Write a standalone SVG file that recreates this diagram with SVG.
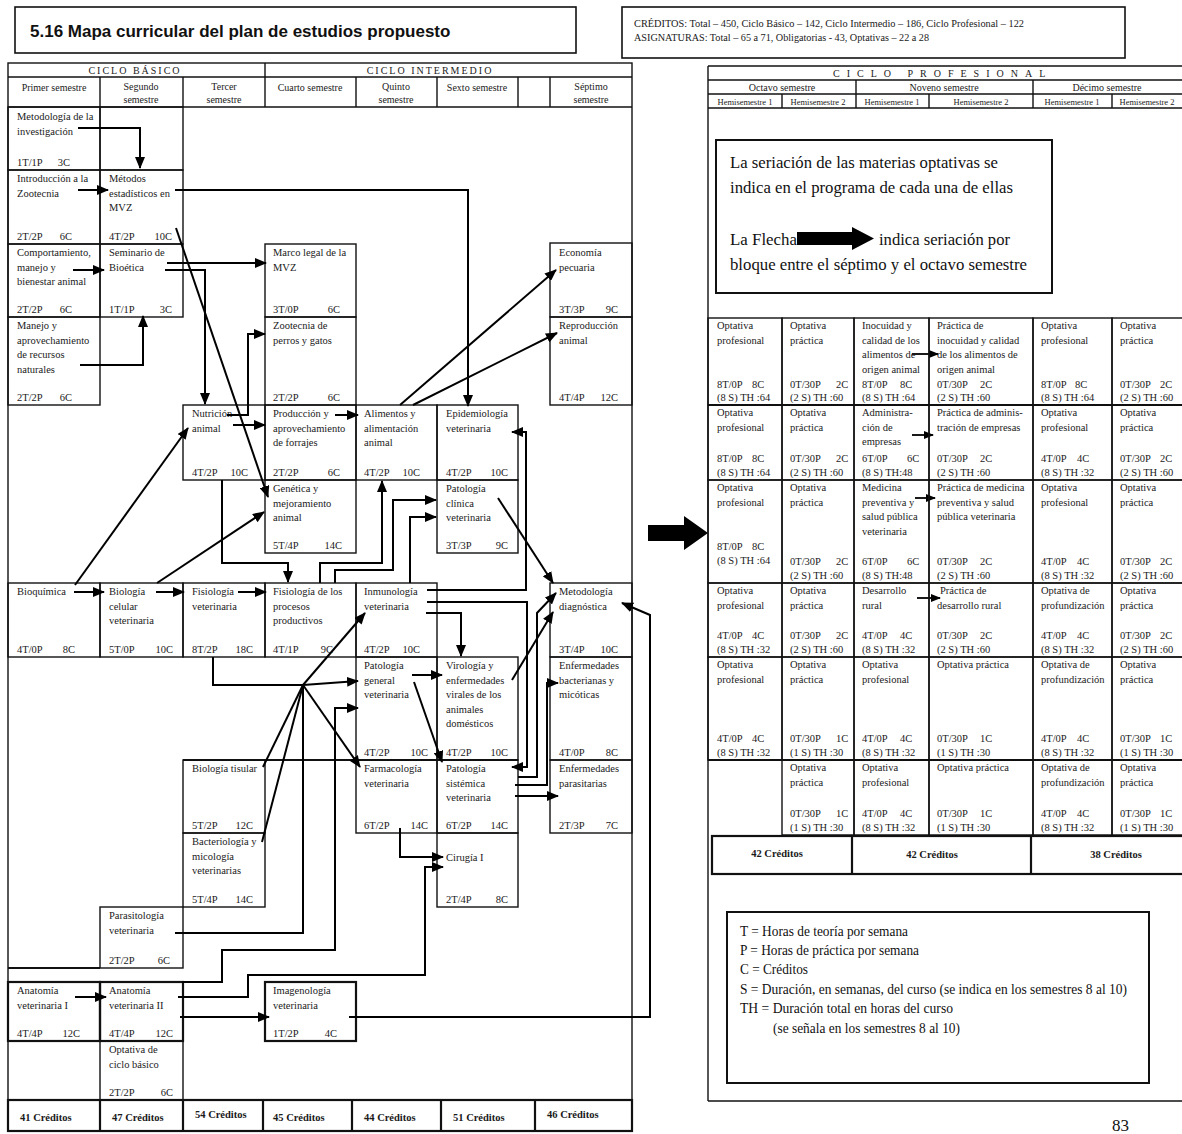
<svg xmlns="http://www.w3.org/2000/svg" width="1182" height="1134" viewBox="0 0 1182 1134">
<defs>
<marker id="ah" markerUnits="userSpaceOnUse" markerWidth="12" markerHeight="10" refX="11" refY="5" orient="auto"><path d="M0,0 L12,5 L0,10 z" fill="#000"/></marker>
<marker id="ahs" markerUnits="userSpaceOnUse" markerWidth="10" markerHeight="8" refX="9" refY="4" orient="auto"><path d="M0,0 L10,4 L0,8 z" fill="#000"/></marker>
<style>
.cell{fill:none;stroke:#111;stroke-width:1.4}
.ln{fill:none;stroke:#111;stroke-width:1.4}
.thk{stroke-width:2.2}
.t{font-family:"Liberation Serif","Times New Roman",serif;font-size:10.5px;fill:#1a1a1a}
.h{font-family:"Liberation Serif","Times New Roman",serif;font-size:10px;fill:#1a1a1a}
.hs{font-family:"Liberation Serif","Times New Roman",serif;font-size:8.5px;fill:#1a1a1a;text-anchor:middle}
.cr{font-family:"Liberation Serif","Times New Roman",serif;font-size:10.5px;font-weight:bold;fill:#1a1a1a}
.lg{font-family:"Liberation Serif","Times New Roman",serif;font-size:16.5px;fill:#111}
.lg2{font-family:"Liberation Serif","Times New Roman",serif;font-size:14.5px;fill:#111}
.e{text-anchor:end}
.m{text-anchor:middle}
.con polyline{fill:none;stroke:#000;stroke-width:2;marker-end:url(#ah)}
.con polyline.nj{marker-end:none}
.con polyline.s{stroke-width:1.8;marker-end:url(#ahs)}
</style>
</defs>
<rect width="1182" height="1134" fill="#fff"/>

<!-- Title and credits boxes -->
<g id="title">
<rect x="15" y="7" width="561" height="46" fill="none" stroke="#111" stroke-width="1.6"/>
<text x="30" y="37" font-family="Liberation Sans, Arial, sans-serif" font-size="17" font-weight="bold" fill="#111">5.16 Mapa curricular del plan de estudios propuesto</text>
</g>
<g id="creditos-box">
<rect x="622" y="7" width="503" height="51" fill="none" stroke="#111" stroke-width="1.6"/>
<text class="h" x="634" y="27" font-size="9.5" textLength="390" lengthAdjust="spacingAndGlyphs">CRÉDITOS:  Total – 450,  Ciclo Básico – 142,  Ciclo Intermedio – 186,  Ciclo Profesional – 122</text>
<text class="h" x="634" y="41" font-size="9.5" textLength="295" lengthAdjust="spacingAndGlyphs">ASIGNATURAS: Total – 65 a 71,  Obligatorias - 43, Optativas – 22 a 28</text>
</g>

<!-- Left table frame -->
<g id="left-frame">
<rect class="ln" x="8" y="63" width="624" height="1037"/>
<line class="ln" x1="8" y1="77" x2="632" y2="77"/>
<line class="ln" x1="8" y1="107" x2="632" y2="107"/>
<line class="ln" x1="265" y1="63" x2="265" y2="107"/>
<line class="ln" x1="100" y1="77" x2="100" y2="107"/>
<line class="ln" x1="183" y1="77" x2="183" y2="107"/>
<line class="ln" x1="356" y1="77" x2="356" y2="107"/>
<line class="ln" x1="437" y1="77" x2="437" y2="107"/>
<line class="ln" x1="518" y1="77" x2="518" y2="107"/>
<line class="ln" x1="550" y1="77" x2="550" y2="107"/>
<text class="h m" x="135" y="74" letter-spacing="2">CICLO BÁSICO</text>
<text class="h m" x="430" y="74" letter-spacing="2">CICLO INTERMEDIO</text>
<text class="h m" x="54" y="91">Primer semestre</text>
<text class="h m" x="141" y="90">Segundo<tspan x="141" dy="13">semestre</tspan></text>
<text class="h m" x="224" y="90">Tercer<tspan x="224" dy="13">semestre</tspan></text>
<text class="h m" x="310" y="91">Cuarto semestre</text>
<text class="h m" x="396" y="90">Quinto<tspan x="396" dy="13">semestre</tspan></text>
<text class="h m" x="477" y="91">Sexto semestre</text>
<text class="h m" x="591" y="90">Séptimo<tspan x="591" dy="13">semestre</tspan></text>
<rect class="cell" x="100" y="107" width="83" height="63"/>
<line class="ln" x1="265" y1="760" x2="356" y2="760"/>
<line class="ln thk" x1="8" y1="968" x2="100" y2="968"/>
<line class="ln thk" x1="183" y1="760" x2="518" y2="760"/>
</g>

<!-- Left table credits row -->
<g id="left-credits">
<rect x="8" y="1100" width="624" height="31" fill="none" stroke="#111" stroke-width="2.2"/>
<line class="ln thk" x1="100" y1="1100" x2="100" y2="1131"/>
<line class="ln thk" x1="183" y1="1100" x2="183" y2="1131"/>
<line class="ln thk" x1="263" y1="1100" x2="263" y2="1131"/>
<line class="ln thk" x1="352" y1="1100" x2="352" y2="1131"/>
<line class="ln thk" x1="441" y1="1100" x2="441" y2="1131"/>
<line class="ln thk" x1="535" y1="1100" x2="535" y2="1131"/>
<text class="cr" x="20" y="1121">41 Créditos</text>
<text class="cr" x="112" y="1121">47 Créditos</text>
<text class="cr" x="195" y="1118">54 Créditos</text>
<text class="cr" x="273" y="1121">45 Créditos</text>
<text class="cr" x="364" y="1121">44 Créditos</text>
<text class="cr" x="453" y="1121">51 Créditos</text>
<text class="cr" x="547" y="1118">46 Créditos</text>
</g>

<!-- Column 1 -->
<g id="n-metinv"><rect class="cell" x="8" y="107" width="92" height="63"/><text class="t" x="17" y="120">Metodología de la<tspan x="17" dy="14.5">investigación</tspan></text><text class="t" x="17" y="166">1T/1P</text><text class="t e" x="70" y="166">3C</text></g>
<g id="n-introzoo"><rect class="cell" x="8" y="170" width="92" height="74"/><text class="t" x="17" y="182">Introducción a la<tspan x="17" dy="14.5">Zootecnia</tspan></text><text class="t" x="17" y="240">2T/2P</text><text class="t e" x="72" y="240">6C</text></g>
<g id="n-comport"><rect class="cell" x="8" y="244" width="92" height="73"/><text class="t" x="17" y="256">Comportamiento,<tspan x="17" dy="14.5">manejo y</tspan><tspan x="17" dy="14.5">bienestar animal</tspan></text><text class="t" x="17" y="313">2T/2P</text><text class="t e" x="72" y="313">6C</text></g>
<g id="n-manejo"><rect class="cell" x="8" y="317" width="92" height="88"/><text class="t" x="17" y="329">Manejo y<tspan x="17" dy="14.5">aprovechamiento</tspan><tspan x="17" dy="14.5">de recursos</tspan><tspan x="17" dy="14.5">naturales</tspan></text><text class="t" x="17" y="401">2T/2P</text><text class="t e" x="72" y="401">6C</text></g>
<g id="n-bioq"><rect class="cell" x="8" y="583" width="92" height="74"/><text class="t" x="17" y="595">Bioquímica</text><text class="t" x="17" y="653">4T/0P</text><text class="t e" x="75" y="653">8C</text></g>
<g id="n-anat1"><rect class="cell thk" x="8" y="982" width="92" height="59"/><text class="t" x="17" y="994">Anatomía<tspan x="17" dy="14.5">veterinaria I</tspan></text><text class="t" x="17" y="1037">4T/4P</text><text class="t e" x="80" y="1037">12C</text></g>

<!-- Column 2 -->
<g id="n-metest"><rect class="cell" x="100" y="170" width="83" height="74"/><text class="t" x="109" y="182">Métodos<tspan x="109" dy="14.5">estadísticos en</tspan><tspan x="109" dy="14.5">MVZ</tspan></text><text class="t" x="109" y="240">4T/2P</text><text class="t e" x="172" y="240">10C</text></g>
<g id="n-bioet"><rect class="cell" x="100" y="244" width="83" height="73"/><text class="t" x="109" y="256">Seminario de<tspan x="109" dy="14.5">Bioética</tspan></text><text class="t" x="109" y="313">1T/1P</text><text class="t e" x="172" y="313">3C</text></g>
<g id="n-biocel"><rect class="cell" x="100" y="583" width="83" height="74"/><text class="t" x="109" y="595">Biología<tspan x="109" dy="14.5">celular</tspan><tspan x="109" dy="14.5">veterinaria</tspan></text><text class="t" x="109" y="653">5T/0P</text><text class="t e" x="173" y="653">10C</text></g>
<g id="n-parasit"><rect class="cell" x="100" y="907" width="83" height="61"/><text class="t" x="109" y="919">Parasitología<tspan x="109" dy="14.5">veterinaria</tspan></text><text class="t" x="109" y="964">2T/2P</text><text class="t e" x="170" y="964">6C</text></g>
<g id="n-anat2"><rect class="cell thk" x="100" y="982" width="83" height="59"/><text class="t" x="109" y="994">Anatomía<tspan x="109" dy="14.5">veterinaria II</tspan></text><text class="t" x="109" y="1037">4T/4P</text><text class="t e" x="173" y="1037">12C</text></g>
<g id="n-optbas"><rect class="cell" x="100" y="1041" width="83" height="59"/><text class="t" x="109" y="1053">Optativa de<tspan x="109" dy="14.5">ciclo básico</tspan></text><text class="t" x="109" y="1096">2T/2P</text><text class="t e" x="173" y="1096">6C</text></g>

<!-- Column 3 -->
<g id="n-nutri"><rect class="cell" x="183" y="405" width="82" height="75"/><text class="t" x="192" y="417">Nutrición<tspan x="192" dy="14.5">animal</tspan></text><text class="t" x="192" y="476">4T/2P</text><text class="t e" x="248" y="476">10C</text></g>
<g id="n-fisvet"><rect class="cell" x="183" y="583" width="82" height="74"/><text class="t" x="192" y="595">Fisiología<tspan x="192" dy="14.5">veterinaria</tspan></text><text class="t" x="192" y="653">8T/2P</text><text class="t e" x="253" y="653">18C</text></g>
<g id="n-biotis"><rect class="cell" x="183" y="760" width="82" height="73"/><text class="t" x="192" y="772">Biología tisular</text><text class="t" x="192" y="829">5T/2P</text><text class="t e" x="253" y="829">12C</text></g>
<g id="n-bacter"><rect class="cell" x="183" y="833" width="82" height="74"/><text class="t" x="192" y="845">Bacteriología y<tspan x="192" dy="14.5">micología</tspan><tspan x="192" dy="14.5">veterinarias</tspan></text><text class="t" x="192" y="903">5T/4P</text><text class="t e" x="253" y="903">14C</text></g>

<!-- Column 4 -->
<g id="n-marco"><rect class="cell" x="265" y="244" width="91" height="73"/><text class="t" x="273" y="256">Marco legal de la<tspan x="273" dy="14.5">MVZ</tspan></text><text class="t" x="273" y="313">3T/0P</text><text class="t e" x="340" y="313">6C</text></g>
<g id="n-zoope"><rect class="cell" x="265" y="317" width="91" height="88"/><text class="t" x="273" y="329">Zootecnia de<tspan x="273" dy="14.5">perros y gatos</tspan></text><text class="t" x="273" y="401">2T/2P</text><text class="t e" x="340" y="401">6C</text></g>
<g id="n-produc"><rect class="cell" x="265" y="405" width="91" height="75"/><text class="t" x="273" y="417">Producción y<tspan x="273" dy="14.5">aprovechamiento</tspan><tspan x="273" dy="14.5">de forrajes</tspan></text><text class="t" x="273" y="476">2T/2P</text><text class="t e" x="340" y="476">6C</text></g>
<g id="n-genet"><rect class="cell" x="265" y="480" width="91" height="73"/><text class="t" x="273" y="492">Genética y<tspan x="273" dy="14.5">mejoramiento</tspan><tspan x="273" dy="14.5">animal</tspan></text><text class="t" x="273" y="549">5T/4P</text><text class="t e" x="342" y="549">14C</text></g>
<g id="n-fispro"><rect class="cell" x="265" y="583" width="91" height="74"/><text class="t" x="273" y="595">Fisiología de los<tspan x="273" dy="14.5">procesos</tspan><tspan x="273" dy="14.5">productivos</tspan></text><text class="t" x="273" y="653">4T/1P</text><text class="t e" x="333" y="653">9C</text></g>
<g id="n-imagen"><rect class="cell thk" x="265" y="982" width="91" height="59"/><text class="t" x="273" y="994">Imagenología<tspan x="273" dy="14.5">veterinaria</tspan></text><text class="t" x="273" y="1037">1T/2P</text><text class="t e" x="337" y="1037">4C</text></g>

<!-- Column 5 -->
<g id="n-alimen"><rect class="cell" x="356" y="405" width="81" height="75"/><text class="t" x="364" y="417">Alimentos y<tspan x="364" dy="14.5">alimentación</tspan><tspan x="364" dy="14.5">animal</tspan></text><text class="t" x="364" y="476">4T/2P</text><text class="t e" x="420" y="476">10C</text></g>
<g id="n-inmuno"><rect class="cell" x="356" y="583" width="81" height="74"/><text class="t" x="364" y="595">Inmunología<tspan x="364" dy="14.5">veterinaria</tspan></text><text class="t" x="364" y="653">4T/2P</text><text class="t e" x="420" y="653">10C</text></g>
<g id="n-patgen"><rect class="cell" x="356" y="657" width="81" height="103"/><text class="t" x="364" y="669">Patología<tspan x="364" dy="14.5">general</tspan><tspan x="364" dy="14.5">veterinaria</tspan></text><text class="t" x="364" y="756">4T/2P</text><text class="t e" x="428" y="756">10C</text></g>
<g id="n-farmac"><rect class="cell" x="356" y="760" width="81" height="73"/><text class="t" x="364" y="772">Farmacología<tspan x="364" dy="14.5">veterinaria</tspan></text><text class="t" x="364" y="829">6T/2P</text><text class="t e" x="428" y="829">14C</text></g>

<!-- Column 6 -->
<g id="n-epidem"><rect class="cell" x="437" y="405" width="81" height="75"/><text class="t" x="446" y="417">Epidemiología<tspan x="446" dy="14.5">veterinaria</tspan></text><text class="t" x="446" y="476">4T/2P</text><text class="t e" x="508" y="476">10C</text></g>
<g id="n-patcli"><rect class="cell" x="437" y="480" width="81" height="73"/><text class="t" x="446" y="492">Patología<tspan x="446" dy="14.5">clínica</tspan><tspan x="446" dy="14.5">veterinaria</tspan></text><text class="t" x="446" y="549">3T/3P</text><text class="t e" x="508" y="549">9C</text></g>
<g id="n-virol"><rect class="cell" x="437" y="657" width="81" height="103"/><text class="t" x="446" y="669">Virología y<tspan x="446" dy="14.5">enfermedades</tspan><tspan x="446" dy="14.5">virales de los</tspan><tspan x="446" dy="14.5">animales</tspan><tspan x="446" dy="14.5">domésticos</tspan></text><text class="t" x="446" y="756">4T/2P</text><text class="t e" x="508" y="756">10C</text></g>
<g id="n-patsis"><rect class="cell" x="437" y="760" width="81" height="73"/><text class="t" x="446" y="772">Patología<tspan x="446" dy="14.5">sistémica</tspan><tspan x="446" dy="14.5">veterinaria</tspan></text><text class="t" x="446" y="829">6T/2P</text><text class="t e" x="508" y="829">14C</text></g>
<g id="n-cirug"><rect class="cell" x="437" y="833" width="81" height="74"/><text class="t" x="446" y="861">Cirugía I</text><text class="t" x="446" y="903">2T/4P</text><text class="t e" x="508" y="903">8C</text></g>

<!-- Column 7 -->
<g id="n-econ"><rect class="cell" x="550" y="243" width="82" height="74"/><text class="t" x="559" y="256">Economía<tspan x="559" dy="14.5">pecuaria</tspan></text><text class="t" x="559" y="313">3T/3P</text><text class="t e" x="618" y="313">9C</text></g>
<g id="n-reprod"><rect class="cell" x="550" y="317" width="82" height="88"/><text class="t" x="559" y="329">Reproducción<tspan x="559" dy="14.5">animal</tspan></text><text class="t" x="559" y="401">4T/4P</text><text class="t e" x="618" y="401">12C</text></g>
<g id="n-metdia"><rect class="cell" x="550" y="583" width="82" height="74"/><text class="t" x="559" y="595">Metodología<tspan x="559" dy="14.5">diagnóstica</tspan></text><text class="t" x="559" y="653">3T/4P</text><text class="t e" x="618" y="653">10C</text></g>
<g id="n-enfbac"><rect class="cell" x="550" y="657" width="82" height="103"/><text class="t" x="559" y="669">Enfermedades<tspan x="559" dy="14.5">bacterianas y</tspan><tspan x="559" dy="14.5">micóticas</tspan></text><text class="t" x="559" y="756">4T/0P</text><text class="t e" x="618" y="756">8C</text></g>
<g id="n-enfpar"><rect class="cell" x="550" y="760" width="82" height="73"/><text class="t" x="559" y="772">Enfermedades<tspan x="559" dy="14.5">parasitarias</tspan></text><text class="t" x="559" y="829">2T/3P</text><text class="t e" x="618" y="829">7C</text></g>

<!-- Connectors -->
<g id="connectors" class="con">
<polyline points="78,128 140,128 140,168"/>
<polyline points="78,190 108,190"/>
<polyline points="73,270 104,270"/>
<polyline points="80,365 143,365 143,316"/>
<polyline points="175,190 468,190 468,406"/>
<polyline points="167,263 266,263"/>
<polyline points="165,270 205,270 205,404"/>
<polyline points="176,228 268,497"/>
<polyline points="227,415 248,415 248,334 265,334"/>
<polyline points="233,425 265,425"/>
<polyline points="75,585 188,428"/>
<polyline points="157,583 264,512"/>
<polyline points="74,592 104,592"/>
<polyline points="156,592 184,592"/>
<polyline points="238,592 266,592"/>
<polyline points="222,480 222,563 288,563 288,582"/>
<polyline points="320,583 320,563 382,563 382,481"/>
<polyline points="335,583 335,570 393,570 393,500 436,500"/>
<polyline points="410,583 410,517 436,517"/>
<polyline points="335,415 358,415"/>
<polyline points="400,405 556,270"/>
<polyline points="413,405 557,333"/>
<polyline points="498,498 553,583"/>
<polyline points="427,590 526,590 526,432 512,432"/>
<polyline points="427,602 527,602 527,767 512,767"/>
<polyline points="426,613 461,613 461,656"/>
<polyline points="512,680 553,612"/>
<polyline points="518,777 537,777 537,613 556,593"/>
<polyline points="515,785 547,785 547,683 558,683"/>
<polyline points="515,796 558,796"/>
<polyline points="412,675 442,675"/>
<polyline points="414,682 442,762"/>
<polyline class="nj" points="213,657 213,685 303,685"/>
<polyline class="nj" points="175,933 303,933 303,685"/>
<polyline class="nj" points="263,767 303,685"/>
<polyline class="nj" points="262,842 303,685"/>
<polyline points="303,685 365,613"/>
<polyline points="303,685 358,681"/>
<polyline points="303,685 360,767"/>
<polyline points="182,982 222,982 222,950 335,950 335,708 358,708"/>
<polyline points="400,828 400,857 443,857"/>
<polyline points="178,997 248,997 248,975 425,975 425,867 443,867"/>
<polyline points="180,1017 269,1017"/>
<polyline points="75,997 106,997"/>
<polyline points="349,1017 650,1017 650,615 622,603"/>
<polyline class="s" points="912,354 938,354"/>
<polyline class="s" points="912,435 933,435"/>
<polyline class="s" points="915,498 935,498"/>
<polyline class="s" points="917,598 940,598"/>
<polygon points="648,525 684,525 684,516 708,533 684,550 684,541 648,541" fill="#000"/>
</g>

<!-- Right table frame -->
<g id="right-frame">
<line class="ln" x1="708" y1="66" x2="708" y2="1101"/>
<line class="ln" x1="708" y1="66" x2="1182" y2="66"/>
<line class="ln" x1="708" y1="80" x2="1182" y2="80"/>
<line class="ln" x1="708" y1="94" x2="1182" y2="94"/>
<line class="ln" x1="708" y1="108" x2="1182" y2="108"/>
<line class="ln" x1="708" y1="1101" x2="1182" y2="1101"/>
<line class="ln" x1="856" y1="80" x2="856" y2="108"/>
<line class="ln" x1="1033" y1="80" x2="1033" y2="108"/>
<line class="ln" x1="782" y1="94" x2="782" y2="108"/>
<line class="ln" x1="929" y1="94" x2="929" y2="108"/>
<line class="ln" x1="1112" y1="94" x2="1112" y2="108"/>
<text class="h" x="833" y="77" letter-spacing="7">CICLO  PROFESIONAL</text>
<text class="h m" x="782" y="91" font-size="9.5">Octavo semestre</text>
<text class="h m" x="944" y="91" font-size="9.5">Noveno semestre</text>
<text class="h m" x="1107" y="91" font-size="9.5">Décimo semestre</text>
<text class="hs" x="745" y="105">Hemisemestre 1</text>
<text class="hs" x="818" y="105">Hemisemestre 2</text>
<text class="hs" x="892" y="105">Hemisemestre 1</text>
<text class="hs" x="981" y="105">Hemisemestre 2</text>
<text class="hs" x="1072" y="105">Hemisemestre 1</text>
<text class="hs" x="1147" y="105">Hemisemestre 2</text>
<line class="ln thk" x1="708" y1="405" x2="1182" y2="405"/>
<line class="ln thk" x1="708" y1="760" x2="1182" y2="760"/>
</g>

<g id="legend-seriacion">
<rect x="716" y="140" width="336" height="153" fill="none" stroke="#111" stroke-width="2"/>
<text class="lg" x="730" y="168" textLength="268" lengthAdjust="spacingAndGlyphs">La seriación de las materias optativas se</text>
<text class="lg" x="730" y="193" textLength="283" lengthAdjust="spacingAndGlyphs">indica en el programa de cada una de ellas</text>
<text class="lg" x="730" y="245" textLength="67" lengthAdjust="spacingAndGlyphs">La Flecha</text>
<polygon points="797,232 852,232 852,227 874,238.5 852,250 852,245 797,245" fill="#000"/>
<text class="lg" x="879" y="245" textLength="131" lengthAdjust="spacingAndGlyphs">indica seriación por</text>
<text class="lg" x="730" y="270" textLength="297" lengthAdjust="spacingAndGlyphs">bloque entre el séptimo y el octavo semestre</text>
</g>

<!-- Right table row 1 -->
<g id="r1c1"><rect class="cell" x="708" y="318" width="74" height="87"/><text class="t" x="717" y="329">Optativa<tspan x="717" dy="14.5">profesional</tspan></text><text class="t" x="717" y="388">8T/0P</text><text class="t" x="752" y="388">8C</text><text class="t" x="717" y="401">(8 S) TH :64</text></g>
<g id="r1c2"><rect class="cell" x="782" y="318" width="72" height="87"/><text class="t" x="790" y="329">Optativa<tspan x="790" dy="14.5">práctica</tspan></text><text class="t" x="790" y="388">0T/30P</text><text class="t" x="836" y="388">2C</text><text class="t" x="790" y="401">(2 S) TH :60</text></g>
<g id="r1c3"><rect class="cell" x="854" y="318" width="75" height="87"/><text class="t" x="862" y="329">Inocuidad y<tspan x="862" dy="14.5">calidad de los</tspan><tspan x="862" dy="14.5">alimentos de</tspan><tspan x="862" dy="14.5">origen animal</tspan></text><text class="t" x="862" y="388">8T/0P</text><text class="t" x="900" y="388">8C</text><text class="t" x="862" y="401">(8 S) TH :64</text></g>
<g id="r1c4"><rect class="cell" x="929" y="318" width="104" height="87"/><text class="t" x="937" y="329">Práctica de<tspan x="937" dy="14.5">inocuidad y calidad</tspan><tspan x="937" dy="14.5">de los alimentos de</tspan><tspan x="937" dy="14.5">origen animal</tspan></text><text class="t" x="937" y="388">0T/30P</text><text class="t" x="980" y="388">2C</text><text class="t" x="937" y="401">(2 S) TH :60</text></g>
<g id="r1c5"><rect class="cell" x="1033" y="318" width="79" height="87"/><text class="t" x="1041" y="329">Optativa<tspan x="1041" dy="14.5">profesional</tspan></text><text class="t" x="1041" y="388">8T/0P</text><text class="t" x="1075" y="388">8C</text><text class="t" x="1041" y="401">(8 S) TH :64</text></g>
<g id="r1c6"><rect class="cell" x="1112" y="318" width="72" height="87"/><text class="t" x="1120" y="329">Optativa<tspan x="1120" dy="14.5">práctica</tspan></text><text class="t" x="1120" y="388">0T/30P</text><text class="t" x="1160" y="388">2C</text><text class="t" x="1120" y="401">(2 S) TH :60</text></g>

<!-- Row 2 -->
<g id="r2c1"><rect class="cell" x="708" y="405" width="74" height="75"/><text class="t" x="717" y="416">Optativa<tspan x="717" dy="14.5">profesional</tspan></text><text class="t" x="717" y="462">8T/0P</text><text class="t" x="752" y="462">8C</text><text class="t" x="717" y="476">(8 S) TH :64</text></g>
<g id="r2c2"><rect class="cell" x="782" y="405" width="72" height="75"/><text class="t" x="790" y="416">Optativa<tspan x="790" dy="14.5">práctica</tspan></text><text class="t" x="790" y="462">0T/30P</text><text class="t" x="836" y="462">2C</text><text class="t" x="790" y="476">(2 S) TH :60</text></g>
<g id="r2c3"><rect class="cell" x="854" y="405" width="75" height="75"/><text class="t" x="862" y="416">Administra-<tspan x="862" dy="14.5">ción de</tspan><tspan x="862" dy="14.5">empresas</tspan></text><text class="t" x="862" y="462">6T/0P</text><text class="t" x="907" y="462">6C</text><text class="t" x="862" y="476">(8 S)   TH:48</text></g>
<g id="r2c4"><rect class="cell" x="929" y="405" width="104" height="75"/><text class="t" x="937" y="416">Práctica de adminis-<tspan x="937" dy="14.5">tración de empresas</tspan></text><text class="t" x="937" y="462">0T/30P</text><text class="t" x="980" y="462">2C</text><text class="t" x="937" y="476">(2 S) TH :60</text></g>
<g id="r2c5"><rect class="cell" x="1033" y="405" width="79" height="75"/><text class="t" x="1041" y="416">Optativa<tspan x="1041" dy="14.5">profesional</tspan></text><text class="t" x="1041" y="462">4T/0P</text><text class="t" x="1077" y="462">4C</text><text class="t" x="1041" y="476">(8 S) TH :32</text></g>
<g id="r2c6"><rect class="cell" x="1112" y="405" width="72" height="75"/><text class="t" x="1120" y="416">Optativa<tspan x="1120" dy="14.5">práctica</tspan></text><text class="t" x="1120" y="462">0T/30P</text><text class="t" x="1160" y="462">2C</text><text class="t" x="1120" y="476">(2 S) TH :60</text></g>

<!-- Row 3 -->
<g id="r3c1"><rect class="cell" x="708" y="480" width="74" height="103"/><text class="t" x="717" y="491">Optativa<tspan x="717" dy="14.5">profesional</tspan></text><text class="t" x="717" y="550">8T/0P</text><text class="t" x="752" y="550">8C</text><text class="t" x="717" y="564">(8 S) TH :64</text></g>
<g id="r3c2"><rect class="cell" x="782" y="480" width="72" height="103"/><text class="t" x="790" y="491">Optativa<tspan x="790" dy="14.5">práctica</tspan></text><text class="t" x="790" y="565">0T/30P</text><text class="t" x="836" y="565">2C</text><text class="t" x="790" y="579">(2 S) TH :60</text></g>
<g id="r3c3"><rect class="cell" x="854" y="480" width="75" height="103"/><text class="t" x="862" y="491">Medicina<tspan x="862" dy="14.5">preventiva y</tspan><tspan x="862" dy="14.5">salud pública</tspan><tspan x="862" dy="14.5">veterinaria</tspan></text><text class="t" x="862" y="565">6T/0P</text><text class="t" x="907" y="565">6C</text><text class="t" x="862" y="579">(8 S)   TH:48</text></g>
<g id="r3c4"><rect class="cell" x="929" y="480" width="104" height="103"/><text class="t" x="937" y="491">Práctica de medicina<tspan x="937" dy="14.5">preventiva y salud</tspan><tspan x="937" dy="14.5">pública veterinaria</tspan></text><text class="t" x="937" y="565">0T/30P</text><text class="t" x="980" y="565">2C</text><text class="t" x="937" y="579">(2 S) TH :60</text></g>
<g id="r3c5"><rect class="cell" x="1033" y="480" width="79" height="103"/><text class="t" x="1041" y="491">Optativa<tspan x="1041" dy="14.5">profesional</tspan></text><text class="t" x="1041" y="565">4T/0P</text><text class="t" x="1077" y="565">4C</text><text class="t" x="1041" y="579">(8 S) TH :32</text></g>
<g id="r3c6"><rect class="cell" x="1112" y="480" width="72" height="103"/><text class="t" x="1120" y="491">Optativa<tspan x="1120" dy="14.5">práctica</tspan></text><text class="t" x="1120" y="565">0T/30P</text><text class="t" x="1160" y="565">2C</text><text class="t" x="1120" y="579">(2 S) TH :60</text></g>

<!-- Row 4 -->
<g id="r4c1"><rect class="cell" x="708" y="583" width="74" height="74"/><text class="t" x="717" y="594">Optativa<tspan x="717" dy="14.5">profesional</tspan></text><text class="t" x="717" y="639">4T/0P</text><text class="t" x="752" y="639">4C</text><text class="t" x="717" y="653">(8 S) TH :32</text></g>
<g id="r4c2"><rect class="cell" x="782" y="583" width="72" height="74"/><text class="t" x="790" y="594">Optativa<tspan x="790" dy="14.5">práctica</tspan></text><text class="t" x="790" y="639">0T/30P</text><text class="t" x="836" y="639">2C</text><text class="t" x="790" y="653">(2 S) TH :60</text></g>
<g id="r4c3"><rect class="cell" x="854" y="583" width="75" height="74"/><text class="t" x="862" y="594">Desarrollo<tspan x="862" dy="14.5">rural</tspan></text><text class="t" x="862" y="639">4T/0P</text><text class="t" x="900" y="639">4C</text><text class="t" x="862" y="653">(8 S) TH :32</text></g>
<g id="r4c4"><rect class="cell" x="929" y="583" width="104" height="74"/><text class="t" x="940" y="594">Práctica de<tspan x="937" dy="14.5">desarrollo rural</tspan></text><text class="t" x="937" y="639">0T/30P</text><text class="t" x="980" y="639">2C</text><text class="t" x="937" y="653">(2 S) TH :60</text></g>
<g id="r4c5"><rect class="cell" x="1033" y="583" width="79" height="74"/><text class="t" x="1041" y="594">Optativa de<tspan x="1041" dy="14.5">profundización</tspan></text><text class="t" x="1041" y="639">4T/0P</text><text class="t" x="1077" y="639">4C</text><text class="t" x="1041" y="653">(8 S) TH :32</text></g>
<g id="r4c6"><rect class="cell" x="1112" y="583" width="72" height="74"/><text class="t" x="1120" y="594">Optativa<tspan x="1120" dy="14.5">práctica</tspan></text><text class="t" x="1120" y="639">0T/30P</text><text class="t" x="1160" y="639">2C</text><text class="t" x="1120" y="653">(2 S) TH :60</text></g>

<!-- Row 5 -->
<g id="r5c1"><rect class="cell" x="708" y="657" width="74" height="103"/><text class="t" x="717" y="668">Optativa<tspan x="717" dy="14.5">profesional</tspan></text><text class="t" x="717" y="742">4T/0P</text><text class="t" x="752" y="742">4C</text><text class="t" x="717" y="756">(8 S) TH :32</text></g>
<g id="r5c2"><rect class="cell" x="782" y="657" width="72" height="103"/><text class="t" x="790" y="668">Optativa<tspan x="790" dy="14.5">práctica</tspan></text><text class="t" x="790" y="742">0T/30P</text><text class="t" x="836" y="742">1C</text><text class="t" x="790" y="756">(1 S) TH :30</text></g>
<g id="r5c3"><rect class="cell" x="854" y="657" width="75" height="103"/><text class="t" x="862" y="668">Optativa<tspan x="862" dy="14.5">profesional</tspan></text><text class="t" x="862" y="742">4T/0P</text><text class="t" x="900" y="742">4C</text><text class="t" x="862" y="756">(8 S) TH :32</text></g>
<g id="r5c4"><rect class="cell" x="929" y="657" width="104" height="103"/><text class="t" x="937" y="668">Optativa práctica</text><text class="t" x="937" y="742">0T/30P</text><text class="t" x="980" y="742">1C</text><text class="t" x="937" y="756">(1 S) TH :30</text></g>
<g id="r5c5"><rect class="cell" x="1033" y="657" width="79" height="103"/><text class="t" x="1041" y="668">Optativa de<tspan x="1041" dy="14.5">profundización</tspan></text><text class="t" x="1041" y="742">4T/0P</text><text class="t" x="1077" y="742">4C</text><text class="t" x="1041" y="756">(8 S) TH :32</text></g>
<g id="r5c6"><rect class="cell" x="1112" y="657" width="72" height="103"/><text class="t" x="1120" y="668">Optativa<tspan x="1120" dy="14.5">práctica</tspan></text><text class="t" x="1120" y="742">0T/30P</text><text class="t" x="1160" y="742">1C</text><text class="t" x="1120" y="756">(1 S) TH :30</text></g>

<!-- Row 6 -->
<g id="r6c2"><rect class="cell" x="782" y="760" width="72" height="75"/><text class="t" x="790" y="771">Optativa<tspan x="790" dy="14.5">práctica</tspan></text><text class="t" x="790" y="817">0T/30P</text><text class="t" x="836" y="817">1C</text><text class="t" x="790" y="831">(1 S) TH :30</text></g>
<g id="r6c3"><rect class="cell" x="854" y="760" width="75" height="75"/><text class="t" x="862" y="771">Optativa<tspan x="862" dy="14.5">profesional</tspan></text><text class="t" x="862" y="817">4T/0P</text><text class="t" x="900" y="817">4C</text><text class="t" x="862" y="831">(8 S) TH :32</text></g>
<g id="r6c4"><rect class="cell" x="929" y="760" width="104" height="75"/><text class="t" x="937" y="771">Optativa práctica</text><text class="t" x="937" y="817">0T/30P</text><text class="t" x="980" y="817">1C</text><text class="t" x="937" y="831">(1 S) TH :30</text></g>
<g id="r6c5"><rect class="cell" x="1033" y="760" width="79" height="75"/><text class="t" x="1041" y="771">Optativa de<tspan x="1041" dy="14.5">profundización</tspan></text><text class="t" x="1041" y="817">4T/0P</text><text class="t" x="1077" y="817">4C</text><text class="t" x="1041" y="831">(8 S) TH :32</text></g>
<g id="r6c6"><rect class="cell" x="1112" y="760" width="72" height="75"/><text class="t" x="1120" y="771">Optativa<tspan x="1120" dy="14.5">práctica</tspan></text><text class="t" x="1120" y="817">0T/30P</text><text class="t" x="1160" y="817">1C</text><text class="t" x="1120" y="831">(1 S) TH :30</text></g>

<g id="right-credits">
<rect x="712" y="836" width="472" height="38" fill="none" stroke="#111" stroke-width="2.2"/>
<line class="ln thk" x1="852" y1="836" x2="852" y2="874"/>
<line class="ln thk" x1="1031" y1="836" x2="1031" y2="874"/>
<text class="cr m" x="777" y="857">42 Créditos</text>
<text class="cr m" x="932" y="858">42 Créditos</text>
<text class="cr m" x="1116" y="858">38 Créditos</text>
</g>

<g id="legend-abrev">
<rect x="727" y="912" width="422" height="171" fill="none" stroke="#111" stroke-width="2"/>
<text class="lg2" x="740" y="936" textLength="168" lengthAdjust="spacingAndGlyphs">T = Horas de teoría por semana</text>
<text class="lg2" x="740" y="955" textLength="179" lengthAdjust="spacingAndGlyphs">P = Horas de práctica por semana</text>
<text class="lg2" x="740" y="974" textLength="68" lengthAdjust="spacingAndGlyphs">C = Créditos</text>
<text class="lg2" x="740" y="994" textLength="387" lengthAdjust="spacingAndGlyphs">S =  Duración, en semanas, del curso (se indica en los semestres 8 al 10)</text>
<text class="lg2" x="740" y="1013" textLength="213" lengthAdjust="spacingAndGlyphs">TH  = Duración total en horas del curso</text>
<text class="lg2" x="773" y="1033" textLength="187" lengthAdjust="spacingAndGlyphs">(se señala en los semestres 8 al 10)</text>
</g>

<text x="1112" y="1131" font-family="Liberation Serif, serif" font-size="17" fill="#111">83</text>
</svg>
